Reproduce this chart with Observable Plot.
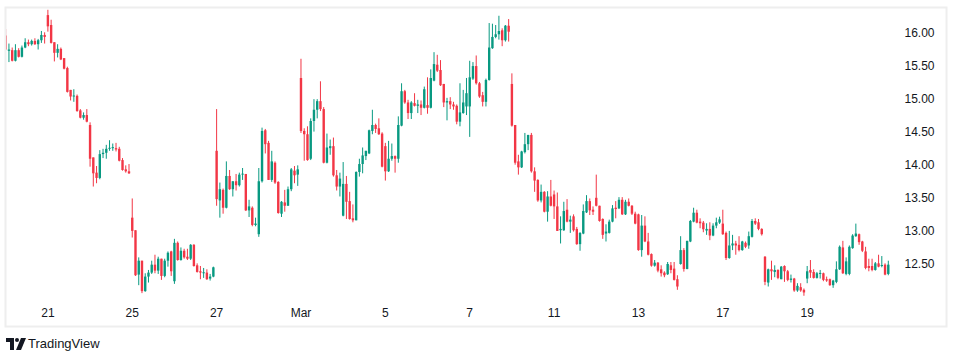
<!DOCTYPE html>
<html><head><meta charset="utf-8">
<script src="https://cdn.jsdelivr.net/npm/d3@7"></script>
<script src="https://cdn.jsdelivr.net/npm/@observablehq/plot@0.6"></script>
<style>
body{margin:0;background:#fff;font-family:"Liberation Sans",Arial,sans-serif;}
#chart svg{display:block}
#brand{height:27px;display:flex;align-items:center;padding-left:6px;font-size:13px;color:#131722}
#brand svg{margin-right:2px}
</style></head><body>
<div id="chart"></div>
<div id="brand"><svg width="20" height="12" viewBox="0 0 20 12"><path d="M0 0H8V12H4V4H0Z" fill="#131722"/><circle cx="11" cy="2" r="2" fill="#131722"/><path d="M15 0H20L15 12H10Z" fill="#131722"/></svg><span>TradingView</span></div>
<script>
// 30-minute candles, 13 per session, Feb 20 – Mar 20
const opens = [
15.95,15.72,15.73,15.57,15.73,15.63,15.77,15.85,15.82,15.87,15.82,15.88,15.96,
16.26,16.11,15.85,15.69,15.75,15.61,15.46,15.13,15.03,15.04,14.82,14.71,14.75,
14.60,14.11,13.88,13.80,14.16,14.18,14.24,14.25,14.25,14.24,14.07,13.93,13.90,
13.20,13.01,12.34,12.55,12.09,12.31,12.37,12.49,12.40,12.58,12.32,12.55,12.69,
12.24,12.82,12.56,12.70,12.61,12.58,12.79,12.48,12.39,12.36,12.37,12.28,12.31,
14.21,13.46,13.62,13.35,13.83,13.63,13.75,13.69,13.85,13.86,13.31,13.35,13.09,
12.95,13.75,14.52,14.33,13.77,14.03,13.74,13.26,13.43,13.38,13.63,13.91,13.85,
15.31,14.51,14.46,14.09,14.66,14.83,14.96,14.84,14.03,14.25,14.28,13.84,13.67,
13.23,13.71,13.45,13.19,13.16,13.89,14.01,14.13,14.17,14.51,14.60,14.55,14.47,
14.28,13.90,14.09,14.13,14.09,14.59,15.11,14.94,14.78,14.93,14.89,14.91,14.86,
14.90,14.86,15.27,15.51,15.43,15.22,14.94,14.96,14.91,14.89,14.65,14.78,14.88,
14.88,15.30,15.49,15.23,15.05,14.95,15.28,15.76,15.93,15.97,16.03,15.88,16.10,
15.22,14.60,14.05,13.96,14.19,14.31,14.45,13.90,13.77,13.46,13.59,13.29,13.52,
13.55,13.37,13.01,13.01,13.32,13.14,13.22,13.03,12.80,12.96,13.28,13.45,13.32,
13.50,13.38,13.18,12.96,12.97,13.14,13.35,13.34,13.47,13.25,13.44,13.38,13.26,
13.25,12.71,13.08,12.84,12.65,12.475,12.52,12.42,12.37,12.345,12.48,12.43,12.27,
12.50,12.71,12.425,12.84,13.14,13.275,13.14,13.125,13.005,13.03,12.93,13.08,13.125,
13.11,12.97,12.59,12.78,12.81,12.79,12.71,12.82,12.78,12.91,13.15,13.13,13.03,
12.61,12.22,12.42,12.38,12.41,12.27,12.47,12.39,12.26,12.28,12.10,12.15,12.11,
12.28,12.41,12.38,12.29,12.35,12.36,12.27,12.27,12.18,12.23,12.42,12.75,12.35,
12.35,12.74,12.92,12.95,12.84,12.69,12.47,12.47,12.41,12.51,12.47,12.49,12.35];
const highs = [
16.05,15.83,15.77,15.82,15.76,15.80,15.91,15.89,15.89,15.91,15.90,16.02,16.00,
16.34,16.19,15.85,15.82,15.77,15.61,15.48,15.13,15.14,15.06,14.84,14.79,14.84,
14.64,14.11,13.98,14.22,14.24,14.30,14.37,14.32,14.33,14.27,14.10,13.99,14.01,
13.49,13.01,12.60,12.55,12.36,12.41,12.55,12.64,12.61,12.58,12.58,12.69,12.70,
12.88,12.84,12.75,12.73,12.73,12.80,12.80,12.51,12.47,12.44,12.42,12.35,12.46,
14.84,13.73,13.64,14.05,13.92,13.75,13.86,13.88,13.95,13.86,13.47,13.37,13.20,
13.95,14.56,14.54,14.36,14.21,14.05,13.75,13.45,13.62,13.67,13.95,13.98,13.99,
15.60,14.55,14.58,14.70,14.99,14.99,15.26,14.87,14.47,14.38,14.41,13.92,13.88,
14.04,13.83,13.59,13.40,13.90,14.09,14.26,14.21,14.53,14.83,14.62,14.70,14.49,
14.33,14.36,14.32,14.14,14.73,15.23,15.13,14.98,14.96,15.08,14.98,14.97,15.18,
15.32,15.44,15.70,15.66,15.58,15.22,15.01,15.02,14.95,14.91,15.23,15.13,15.31,
15.57,15.55,15.65,15.25,15.10,15.30,16.14,16.13,16.11,16.25,16.06,16.11,16.20,
15.38,14.60,14.15,14.21,14.48,14.45,14.48,13.96,13.78,13.70,13.60,13.60,13.77,
13.61,13.58,13.22,13.44,13.48,13.23,13.25,13.06,12.98,13.40,13.54,13.49,13.37,
13.85,13.38,13.19,13.10,13.17,13.39,13.45,13.51,13.51,13.47,13.49,13.39,13.29,
13.26,13.24,13.22,12.97,12.66,12.56,12.53,12.48,12.39,12.53,12.53,12.53,12.33,
12.92,12.74,12.85,13.165,13.35,13.32,13.19,13.15,13.115,13.13,13.115,13.20,13.215,
13.32,12.99,13.00,12.94,12.85,12.92,12.85,12.84,12.99,13.18,13.19,13.18,13.04,
12.62,12.43,12.55,12.48,12.42,12.47,12.48,12.41,12.34,12.29,12.21,12.21,12.13,
12.47,12.56,12.42,12.38,12.41,12.37,12.31,12.28,12.26,12.54,12.78,12.85,12.60,
12.78,12.95,13.11,12.96,12.85,12.76,12.58,12.58,12.53,12.64,12.62,12.51,12.55];
const lows = [
15.73,15.55,15.56,15.56,15.62,15.62,15.76,15.79,15.80,15.81,15.74,15.84,15.83,
16.01,15.83,15.56,15.62,15.58,15.44,15.09,14.97,14.95,14.80,14.70,14.68,14.64,
13.97,13.67,13.72,13.78,14.10,14.09,14.21,14.21,14.20,14.05,13.91,13.88,13.86,
12.90,12.32,12.18,12.06,12.08,12.22,12.35,12.36,12.35,12.26,12.30,12.46,12.32,
12.20,12.55,12.55,12.58,12.56,12.56,12.46,12.37,12.27,12.29,12.26,12.25,12.30,
13.38,13.20,13.26,13.34,13.62,13.52,13.61,13.67,13.77,13.30,13.21,13.07,13.07,
12.91,13.73,14.17,13.77,13.74,13.71,13.26,13.21,13.29,13.38,13.60,13.72,13.68,
14.48,14.06,14.06,14.07,14.50,14.70,14.81,14.02,14.02,14.15,13.82,13.61,13.52,
13.22,13.18,13.17,13.13,13.16,13.82,13.87,14.07,14.16,14.46,14.48,14.45,13.96,
13.76,13.89,14.06,13.88,14.03,14.58,14.92,14.69,14.69,14.88,14.78,14.75,14.85,
14.77,14.85,15.26,15.40,15.19,14.87,14.67,14.84,14.83,14.61,14.58,14.77,14.75,
14.42,15.28,15.21,15.01,14.88,14.88,15.27,15.75,15.91,15.89,15.79,15.86,15.86,
14.575,14.00,13.85,13.95,14.17,14.22,13.88,13.59,13.44,13.43,13.28,13.14,13.37,
13.18,13.00,12.81,13.00,13.13,12.97,12.99,12.79,12.70,12.95,13.27,13.24,13.24,
13.37,13.14,12.88,12.84,12.96,13.13,13.19,13.33,13.24,13.24,13.37,13.24,13.10,
12.70,12.61,12.83,12.63,12.46,12.46,12.375,12.31,12.30,12.335,12.36,12.25,12.11,
12.49,12.385,12.42,12.83,13.13,13.115,13.04,12.98,12.94,12.86,12.92,13.04,13.105,
12.94,12.56,12.58,12.71,12.64,12.69,12.70,12.74,12.73,12.90,13.09,13.01,12.93,
12.18,12.16,12.26,12.30,12.27,12.27,12.23,12.24,12.22,12.08,12.08,12.08,12.02,
12.21,12.29,12.28,12.28,12.28,12.24,12.23,12.17,12.14,12.21,12.41,12.35,12.33,
12.33,12.73,12.91,12.79,12.68,12.42,12.39,12.39,12.40,12.45,12.45,12.33,12.33];
const closes = [
15.74,15.74,15.57,15.73,15.63,15.77,15.85,15.82,15.87,15.82,15.88,15.96,15.93,
16.09,15.84,15.69,15.75,15.59,15.45,15.10,15.03,15.04,14.81,14.71,14.75,14.65,
14.09,13.87,13.80,14.16,14.18,14.24,14.25,14.26,14.23,14.06,13.92,13.90,13.87,
13.00,12.33,12.55,12.09,12.31,12.37,12.49,12.40,12.58,12.32,12.55,12.67,12.39,
12.82,12.56,12.70,12.60,12.58,12.79,12.47,12.38,12.37,12.37,12.27,12.31,12.45,
13.48,13.63,13.35,13.83,13.63,13.75,13.69,13.85,13.86,13.31,13.37,13.09,13.11,
13.75,14.51,14.31,13.77,14.05,13.73,13.27,13.44,13.38,13.63,13.93,13.84,13.93,
14.51,14.46,14.07,14.66,14.83,14.96,14.84,14.03,14.26,14.28,13.84,13.67,13.79,
13.71,13.44,13.18,13.16,13.89,14.01,14.14,14.21,14.52,14.60,14.54,14.46,13.97,
13.90,14.09,14.13,14.09,14.60,15.11,14.94,14.78,14.94,14.89,14.91,14.86,15.14,
14.86,15.31,15.52,15.42,15.20,14.94,14.96,14.91,14.88,14.65,14.79,14.94,15.08,
15.32,15.49,15.23,15.03,14.95,15.28,15.77,15.93,15.97,16.02,15.88,16.10,16.01,
14.59,14.03,13.96,14.20,14.31,14.45,13.90,13.76,13.46,13.59,13.29,13.52,13.38,
13.37,13.00,13.03,13.30,13.14,13.17,13.01,12.80,12.97,13.30,13.45,13.31,13.29,
13.38,13.15,12.94,12.99,13.14,13.34,13.33,13.47,13.25,13.44,13.38,13.26,13.11,
12.71,13.08,12.84,12.64,12.475,12.52,12.40,12.36,12.33,12.50,12.41,12.26,12.16,
12.71,12.425,12.85,13.15,13.275,13.125,13.115,13.025,13.03,12.93,13.08,13.13,13.175,
12.95,12.59,12.78,12.81,12.78,12.71,12.84,12.76,12.92,13.15,13.11,13.03,12.95,
12.23,12.42,12.39,12.41,12.29,12.46,12.39,12.26,12.28,12.10,12.17,12.10,12.07,
12.39,12.37,12.29,12.36,12.36,12.26,12.25,12.18,12.25,12.42,12.76,12.36,12.54,
12.76,12.93,12.96,12.83,12.70,12.44,12.44,12.41,12.51,12.46,12.48,12.34,12.49];

// x-axis labels: bar index of the session's first candle, and its label
const tickBars = [13, 39, 65, 91, 117, 143, 169, 195, 221, 247];
const tickLabels = ["21", "25", "27", "Mar", "5", "7", "11", "13", "17", "19"];
const priceTicks = [12.5, 13, 13.5, 14, 14.5, 15, 15.5, 16];

const UP = "#089981", DOWN = "#F23645";
const candles = opens.map((o, i) => ({i, o, h: highs[i], l: lows[i], c: closes[i]}));
const up = candles.filter(d => d.c >= d.o);
const down = candles.filter(d => d.c < d.o);
const labelOf = new Map(tickBars.map((b, k) => [b, tickLabels[k]]));
const bodyEnd = d => Math.abs(d.c - d.o) < 0.015 ? d.o + (d.c >= d.o ? 0.015 : -0.015) : d.c;

const W = 954, H = 330;
const chart = Plot.plot({
  width: W, height: H,
  marginLeft: 5, marginTop: 7, marginRight: 8, marginBottom: 4,
  style: {fontFamily: '"Liberation Sans", Arial, sans-serif', fontSize: "12px", color: "#131722", background: "#fff"},
  x: {type: "linear", domain: [0, 272], range: [5.2, 887.8]},
  y: {type: "linear", domain: [12.5, 16], range: [264, 32.3]},
  marks: [
    Plot.ruleX(up, {x: "i", y1: "l", y2: "h", stroke: UP, strokeWidth: 1, clip: true}),
    Plot.ruleX(down, {x: "i", y1: "l", y2: "h", stroke: DOWN, strokeWidth: 1, clip: true}),
    Plot.ruleX(up, {x: "i", y1: "o", y2: bodyEnd, stroke: UP, strokeWidth: 2.4, strokeLinecap: "butt", clip: true}),
    Plot.ruleX(down, {x: "i", y1: "o", y2: bodyEnd, stroke: DOWN, strokeWidth: 2.4, strokeLinecap: "butt", clip: true}),
    Plot.axisY(priceTicks, {anchor: "right", tickSize: 0, tickPadding: 0, dx: -42, tickFormat: d => d.toFixed(2), fill: "#131722", fontSize: 12, label: null}),
    Plot.axisX(tickBars, {anchor: "bottom", tickSize: 0, tickPadding: 0, dy: -18, tickFormat: d => labelOf.get(d), fill: "#131722", fontSize: 12, label: null}),
    Plot.frame({stroke: "#eeeeee", strokeWidth: 2})
  ]
});
document.getElementById("chart").appendChild(chart);
</script>
</body></html>
